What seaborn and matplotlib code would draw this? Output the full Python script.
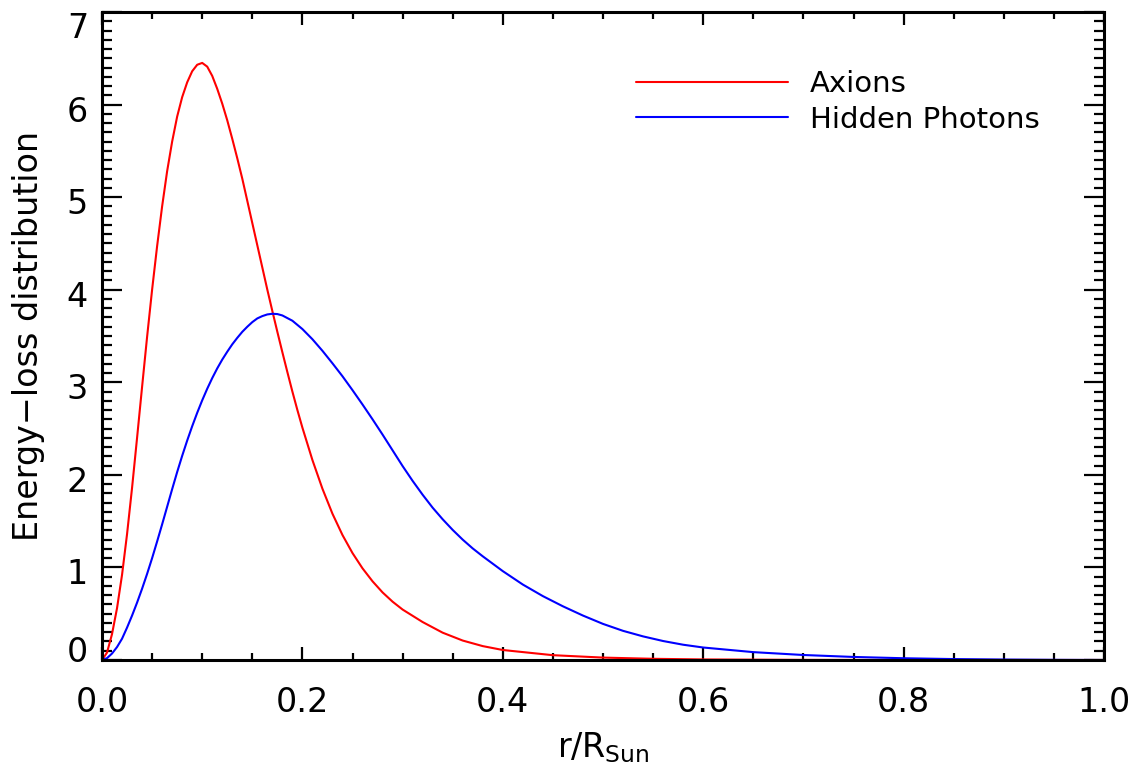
import numpy as np
import pandas as pd
import matplotlib
matplotlib.use("Agg")
import matplotlib.pyplot as plt
from matplotlib.ticker import MultipleLocator, FixedLocator
from matplotlib.transforms import ScaledTranslation
import seaborn as sns

# Energy-loss distribution versus solar radius
r_axion = [0.000, 0.005, 0.010, 0.015, 0.020, 0.025, 0.030, 0.035, 0.040, 0.045,
           0.050, 0.055, 0.060, 0.065, 0.070, 0.075, 0.080, 0.085, 0.090, 0.095,
           0.100, 0.105, 0.110, 0.115, 0.120, 0.125, 0.130, 0.135, 0.140, 0.145,
           0.150, 0.155, 0.160, 0.165, 0.170, 0.175, 0.180, 0.185, 0.190, 0.195,
           0.200, 0.210, 0.220, 0.230, 0.240, 0.250, 0.260, 0.270, 0.280, 0.290,
           0.300, 0.320, 0.340, 0.360, 0.380, 0.400, 0.450, 0.500, 0.550, 0.600,
           0.700, 0.800, 1.000]
e_axion = [0.00, 0.08, 0.28, 0.56, 0.92, 1.36, 1.86, 2.40, 2.95, 3.49,
           4.00, 4.47, 4.90, 5.28, 5.60, 5.87, 6.08, 6.24, 6.36, 6.43,
           6.45, 6.41, 6.31, 6.17, 6.01, 5.83, 5.63, 5.42, 5.20, 4.96,
           4.72, 4.48, 4.24, 4.00, 3.77, 3.545, 3.325, 3.11, 2.90, 2.70,
           2.51, 2.16, 1.85, 1.58, 1.35, 1.155, 0.99, 0.85, 0.73, 0.63,
           0.545, 0.41, 0.295, 0.21, 0.15, 0.108, 0.052, 0.026, 0.013, 0.006,
           0.0015, 0.0003, 0.0]

r_hidden = [0.000, 0.005, 0.010, 0.015, 0.020, 0.025, 0.030, 0.035, 0.040, 0.045,
            0.050, 0.055, 0.060, 0.065, 0.070, 0.075, 0.080, 0.085, 0.090, 0.095,
            0.100, 0.105, 0.110, 0.115, 0.120, 0.125, 0.130, 0.135, 0.140, 0.145,
            0.150, 0.155, 0.160, 0.165, 0.170, 0.175, 0.180, 0.190, 0.200, 0.210,
            0.220, 0.230, 0.240, 0.250, 0.260, 0.270, 0.280, 0.290, 0.300, 0.310,
            0.320, 0.330, 0.340, 0.350, 0.360, 0.370, 0.380, 0.390, 0.400, 0.420,
            0.440, 0.460, 0.480, 0.500, 0.520, 0.540, 0.560, 0.580, 0.600, 0.650,
            0.700, 0.750, 0.800, 0.850, 0.900, 0.950, 1.000]
e_hidden = [0.00, 0.02, 0.07, 0.14, 0.23, 0.35, 0.48, 0.62, 0.77, 0.93,
            1.10, 1.28, 1.465, 1.655, 1.845, 2.03, 2.205, 2.37, 2.525, 2.67,
            2.805, 2.93, 3.045, 3.15, 3.245, 3.33, 3.41, 3.48, 3.545, 3.60,
            3.65, 3.69, 3.715, 3.733, 3.74, 3.737, 3.722, 3.665, 3.575, 3.465,
            3.34, 3.205, 3.065, 2.915, 2.76, 2.60, 2.435, 2.265, 2.095, 1.935,
            1.785, 1.645, 1.52, 1.405, 1.30, 1.205, 1.12, 1.04, 0.96, 0.815,
            0.69, 0.58, 0.48, 0.39, 0.315, 0.255, 0.205, 0.165, 0.135, 0.085,
            0.054, 0.033, 0.019, 0.010, 0.005, 0.002, 0.0]

series_names = ["Axions", "Hidden Photons"]
series_colors = ["red", "blue"]
y_tick_values = [0, 1, 2, 3, 4, 5, 6, 7]
x_tick_values = [0.0, 0.2, 0.4, 0.6, 0.8, 1.0]

df = pd.concat([
    pd.DataFrame({"r": r_axion, "E": e_axion, "model": series_names[0]}),
    pd.DataFrame({"r": r_hidden, "E": e_hidden, "model": series_names[1]}),
], ignore_index=True)

sns.set_style("ticks")
plt.rcParams["font.family"] = ["DejaVu Sans"]
plt.rcParams["mathtext.default"] = "regular"
plt.rcParams["text.color"] = "black"
plt.rcParams["axes.labelcolor"] = "black"

fig = plt.figure(figsize=(11.32, 7.65), dpi=100)
ax = fig.add_axes([102 / 1132, 1 - 660 / 765, 1002 / 1132, 648 / 765])

sns.lineplot(data=df, x="r", y="E", hue="model", hue_order=series_names,
             palette=dict(zip(series_names, series_colors)), estimator=None,
             linewidth=1.5, ax=ax)

ax.set_xlim(0, 1)
ax.set_ylim(0, 7)
ax.xaxis.set_major_locator(FixedLocator(x_tick_values))
ax.xaxis.set_minor_locator(MultipleLocator(0.05))
ax.yaxis.set_major_locator(FixedLocator(y_tick_values))
ax.yaxis.set_minor_locator(MultipleLocator(0.1))
ax.set_xticklabels([f"{v:.1f}" for v in x_tick_values])
ax.set_yticklabels([str(v) for v in y_tick_values])

for side in ["top", "right", "bottom", "left"]:
    ax.spines[side].set_visible(True)
    ax.spines[side].set_linewidth(2.2)
    ax.spines[side].set_color("black")

ax.tick_params(axis="both", which="both", direction="in", top=True, right=True,
               width=1.6, color="black", labelsize=24, labelcolor="black")
ax.tick_params(axis="x", which="major", length=9.4, pad=19)
ax.tick_params(axis="x", which="minor", length=5)
ax.tick_params(axis="y", which="major", length=14.4, pad=10)
ax.tick_params(axis="y", which="minor", length=7)

ax.set_xlabel("r/R$_{Sun}$", fontsize=24, labelpad=8, color="black")
ax.set_ylabel("Energy\u2212loss distribution", fontsize=24, labelpad=16, color="black")

# first and last y labels sit inside the axis range, the rest drop slightly
shift_mid = ScaledTranslation(0, -4 / 100, fig.dpi_scale_trans)
shift_low = ScaledTranslation(0, -2 / 100, fig.dpi_scale_trans)
ylabels = ax.get_yticklabels()
for val, lab in zip(y_tick_values, ylabels):
    if val == y_tick_values[0]:
        lab.set_verticalalignment("baseline")
        lab.set_transform(lab.get_transform() + shift_low)
    elif val == y_tick_values[-1]:
        lab.set_verticalalignment("top")
    else:
        lab.set_transform(lab.get_transform() + shift_mid)

leg = ax.legend(loc="upper left", bbox_to_anchor=(0.533, 0.910), frameon=False,
                fontsize=21, handlelength=5.2, handletextpad=0.75,
                labelspacing=0.25, borderpad=0, borderaxespad=0)
for line in leg.get_lines():
    line.set_linewidth(1.5)
for txt in leg.get_texts():
    txt.set_color("black")

fig.savefig("out.png", dpi=100)
